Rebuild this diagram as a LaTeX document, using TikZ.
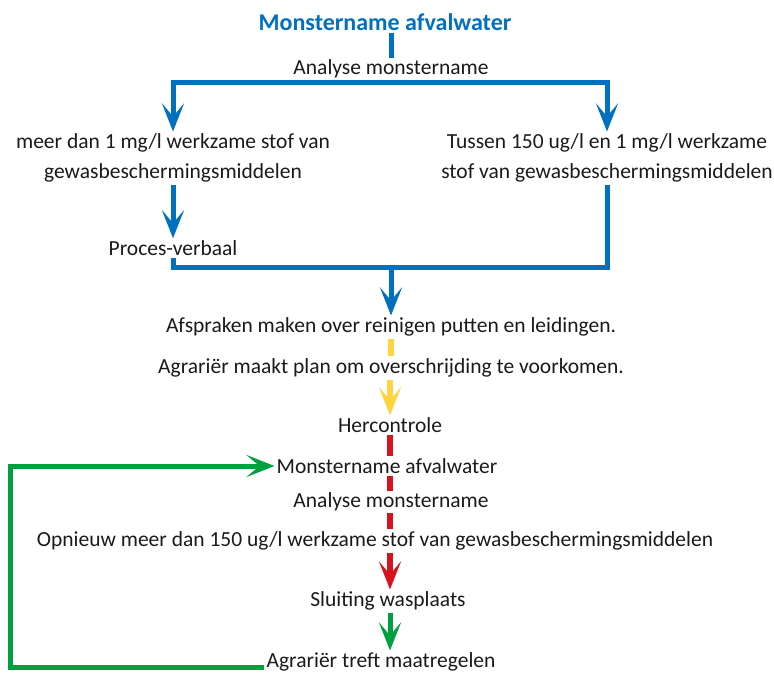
\documentclass[tikz,border=0pt]{standalone}
\usepackage{fontspec}
\setmainfont{Carlito}
\usetikzlibrary{arrows.meta}
\definecolor{cblue}{HTML}{0070C0}
\definecolor{cyel}{HTML}{FFD43E}
\definecolor{cred}{HTML}{D7141C}
\definecolor{cgreen}{HTML}{00A03E}
\definecolor{ctext}{HTML}{1A1A1A}
\tikzset{
  lbl/.style={font=\fontsize{21.5}{30}\selectfont, text=ctext, inner sep=2pt, align=center},
  ttl/.style={font=\fontsize{24}{28}\selectfont\bfseries, text=cblue, inner sep=2pt},
  tip/.style={-{Stealth[length=28pt,width=22pt,inset=13pt]}},
  bline/.style={draw=cblue, line width=5pt},
  yline/.style={draw=cyel, line width=6pt},
  rline/.style={draw=cred, line width=6pt},
  gline/.style={draw=cgreen, line width=5pt},
}
\begin{document}
\begin{tikzpicture}[x=1pt,y=-1pt]
\useasboundingbox (0,0) rectangle (774,674);
\node[ttl] (t) at (385,22) {Monstername afvalwater};
\node[lbl] (a1) at (391,69) {Analyse monstername};
\node[lbl] (l) at (173,158) {meer dan 1 mg/l werkzame stof van\\gewasbeschermingsmiddelen};
\node[lbl] (r) at (607,158) {Tussen 150 ug/l en 1 mg/l werkzame\\stof van gewasbeschermingsmiddelen};
\node[lbl] (pv) at (173,248) {Proces-verbaal};
\node[lbl] (af) at (391,327) {Afspraken maken over reinigen putten en leidingen.};
\node[lbl] (ag) at (391,368) {Agrariër maakt plan om overschrijding te voorkomen.};
\node[lbl] (hc) at (390,425) {Hercontrole};
\node[lbl] (m2) at (387,466) {Monstername afvalwater};
\node[lbl] (a2) at (391,502) {Analyse monstername};
\node[lbl] (op) at (375,541) {Opnieuw meer dan 150 ug/l werkzame stof van gewasbeschermingsmiddelen};
\node[lbl] (sl) at (388,601) {Sluiting wasplaats};
\node[lbl] (tr) at (381,662) {Agrariër treft maatregelen};
\coordinate (hl) at (172,83);
\coordinate (hr) at (607,83);
\coordinate (jn) at (391,267);
\coordinate (gl) at (10,468);
% blue
\draw[bline] (t.south -| a1.north) -- (a1.north);
\draw[bline,tip] (hr) -| (l.north);
\draw[bline,tip] (hl) -| (r.north);
\draw[bline,tip] (l.south) -- (pv.north);
\draw[bline] (pv.south) -- (pv.south |- jn) -- (r.south |- jn) -- (r.south);
\draw[bline,tip] (jn) -- (af.north);
% yellow
\draw[yline] (af.south) -- (ag.north -| af.south);
\draw[yline,tip] (ag.south -| hc.north) -- (hc.north);
% red
\draw[rline] (hc.south) -- (m2.north -| hc.south);
\draw[rline] (m2.south -| hc.south) -- (a2.north -| hc.south);
\draw[rline] (a2.south -| hc.south) -- (op.north -| hc.south);
\draw[rline,tip] (op.south -| hc.south) -- (sl.north -| hc.south);
% green
\draw[gline,tip] (sl.south -| hc.south) -- (tr.north -| hc.south);
\draw[gline,tip] (tr.base west) -- (tr.base west -| gl) |- (m2.west);
\end{tikzpicture}
\end{document}
